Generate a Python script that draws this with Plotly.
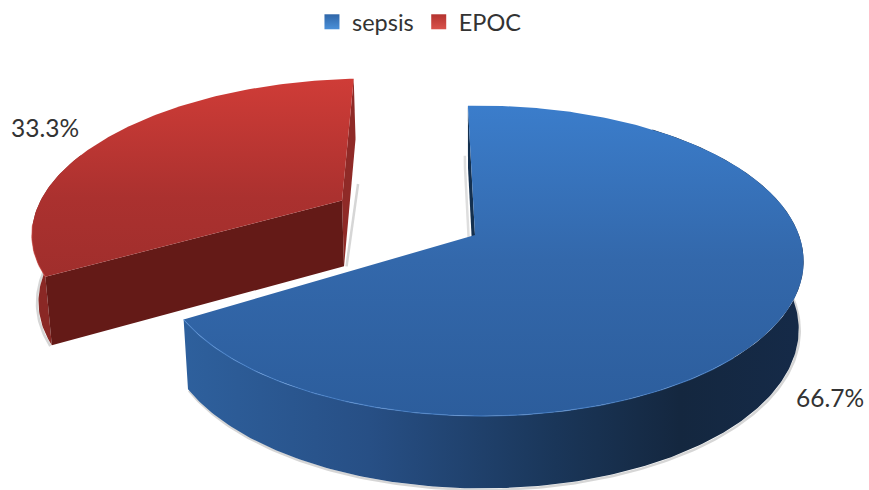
import numpy as np
import plotly.graph_objects as go

categories = ["sepsis", "EPOC"]
values = [66.7, 33.3]
value_labels = ["66.7%", "33.3%"]

CX, CY, HX, GY, DIST, YAW = 475, 235, 1905, 905, 6.0, 0.12
DEPTH, CONV = 67, 0.985
START = -1.5
EXPLODE = [0.0, 0.5]
RADIUS = [1.0, 1.025]


def project(theta, radius, explode, mid):
    t, m = np.radians(theta), np.radians(mid)
    x = radius * np.sin(t) + explode * np.sin(m)
    z = -radius * np.cos(t) - explode * np.cos(m)
    den = DIST - z - YAW * x
    return CX + HX * x / den, CY + GY * z / den, z


def lower(px, py, z):
    return CX + (px - CX) * CONV, py + DEPTH * (1 + 0.08 * z)


def arc(a, b, radius, explode, mid, n=140):
    return project(np.linspace(a, b, n), radius, explode, mid)


def poly(fig, xs, ys, colors=None, gtype="horizontal", solid=None):
    kw = dict(x=xs, y=ys, mode="lines", fill="toself", line=dict(width=0, color="rgba(0,0,0,0)"),
              hoverinfo="skip", showlegend=False)
    if solid:
        kw["fillcolor"] = solid
    else:
        kw["fillgradient"] = dict(type=gtype, colorscale=colors)
    fig.add_trace(go.Scatter(**kw))


def edge(fig, xs, ys, color, width=2.5):
    fig.add_trace(go.Scatter(x=xs, y=ys, mode="lines", hoverinfo="skip", showlegend=False,
                             line=dict(color=color, width=width)))


SHADOW = "rgba(90,90,90,0.25)"
fig = go.Figure()
total = sum(values)
spans = [v / total * 360 for v in values]
a0, a1 = START, START + spans[0]
b0, b1 = a1 + 1.5, a1 + spans[1]
blue_mid, red_mid = (a0 + a1) / 2, a1 + spans[1] / 2

# ---- EPOC (exploded, behind) ----
e, r = EXPLODE[1], RADIUS[1]
ax, ay, az = project(0.0, 0.0, e, red_mid)
apx, apy = float(ax), float(ay)
apbx, apby = lower(ax, ay, az)
rx, ry, rz = arc(b0, b1, r, e, red_mid)
bx, by = lower(rx, ry, rz)

edge(fig, bx[:45] - 1.5, by[:45] + 1, SHADOW)
edge(fig, [apbx + 2.5, bx[-1] + 2.5], [apby, by[-1] + 45], SHADOW)
sel = rx[:60], ry[:60], bx[:60], by[:60]
poly(fig, np.r_[sel[0], sel[2][::-1]], np.r_[sel[1], sel[3][::-1]], solid="#8a2825")
poly(fig, [rx[-1], bx[-1], apbx, apx], [ry[-1], by[-1], apby, apy], solid="#8f2a27")
poly(fig, [rx[0], bx[0], apbx, apx], [ry[0], by[0], apby, apy], solid="#641a17")
poly(fig, np.r_[apx, rx, apx], np.r_[apy, ry, apy],
     colors=[[0, "#a02e2c"], [0.4, "#ab312f"], [1, "#cf3c37"]], gtype="vertical")
edge(fig, rx[:25], ry[:25], "rgba(205,70,65,0.6)", 1.2)

# ---- sepsis ----
e, r = EXPLODE[0], RADIUS[0]
ax, ay, az = project(0.0, 0.0, e, blue_mid)
apx, apy = float(ax), float(ay)
apbx, apby = lower(ax, ay, az)
rx, ry, rz = arc(a0, a1, r, e, blue_mid, n=300)
bx, by = lower(rx, ry, rz)

vis = np.arange(50, 300)
edge(fig, bx[vis] + 1, by[vis] + 1.5, SHADOW)
edge(fig, [rx[0] - 3, bx[0] - 3, apbx - 3], [ry[0] + 50, by[0], apby], "rgba(90,90,90,0.2)")
poly(fig, np.r_[rx[vis], bx[vis][::-1]], np.r_[ry[vis], by[vis][::-1]],
     colors=[[0, "#2e609d"], [0.3, "#274f85"], [0.6, "#1a3659"], [0.8, "#14273f"], [1, "#152a48"]])
poly(fig, [rx[0], bx[0], apbx, apx], [ry[0], by[0], apby, apy], solid="#14304f")
poly(fig, np.r_[apx, rx, apx], np.r_[apy, ry, apy],
     colors=[[0, "#2c5d9c"], [0.5, "#3368ab"], [1, "#3b7dcb"]], gtype="vertical")
edge(fig, rx[170:], ry[170:], "rgba(80,140,215,0.6)", 1.2)

# ---- legend ----
leg_colors = ["#2f66a8", "#b4332f"]
leg_grads = ["#4a90d9", "#d9534c"]
for name, c, g in zip(categories, leg_colors, leg_grads):
    fig.add_trace(go.Scatter(x=[None], y=[None], mode="markers", name=name,
                             marker=dict(symbol="square", size=15, color=c,
                                         gradient=dict(type="vertical", color=g), line=dict(width=0))))

for txt, x, y in zip(value_labels, [830, 45], [397, 127]):
    fig.add_annotation(x=x, y=y, text=txt, showarrow=False, font=dict(family="Lato", size=24.5, color="#333333"))

fig.update_layout(
    width=869, height=490, margin=dict(l=0, r=0, t=0, b=0),
    paper_bgcolor="white", plot_bgcolor="white", autosize=False,
    xaxis=dict(range=[0, 869], visible=False, fixedrange=True),
    yaxis=dict(range=[490, 0], visible=False, fixedrange=True),
    legend=dict(orientation="h", x=0.4827, xanchor="center", y=1.0, yanchor="top",
                font=dict(family="Lato", size=23.5, color="#333333"), itemwidth=30,
                bgcolor="rgba(0,0,0,0)"),
)
fig.write_html("out.html", config={"displayModeBar": False},
               post_script="document.body.style.margin='0px';")
